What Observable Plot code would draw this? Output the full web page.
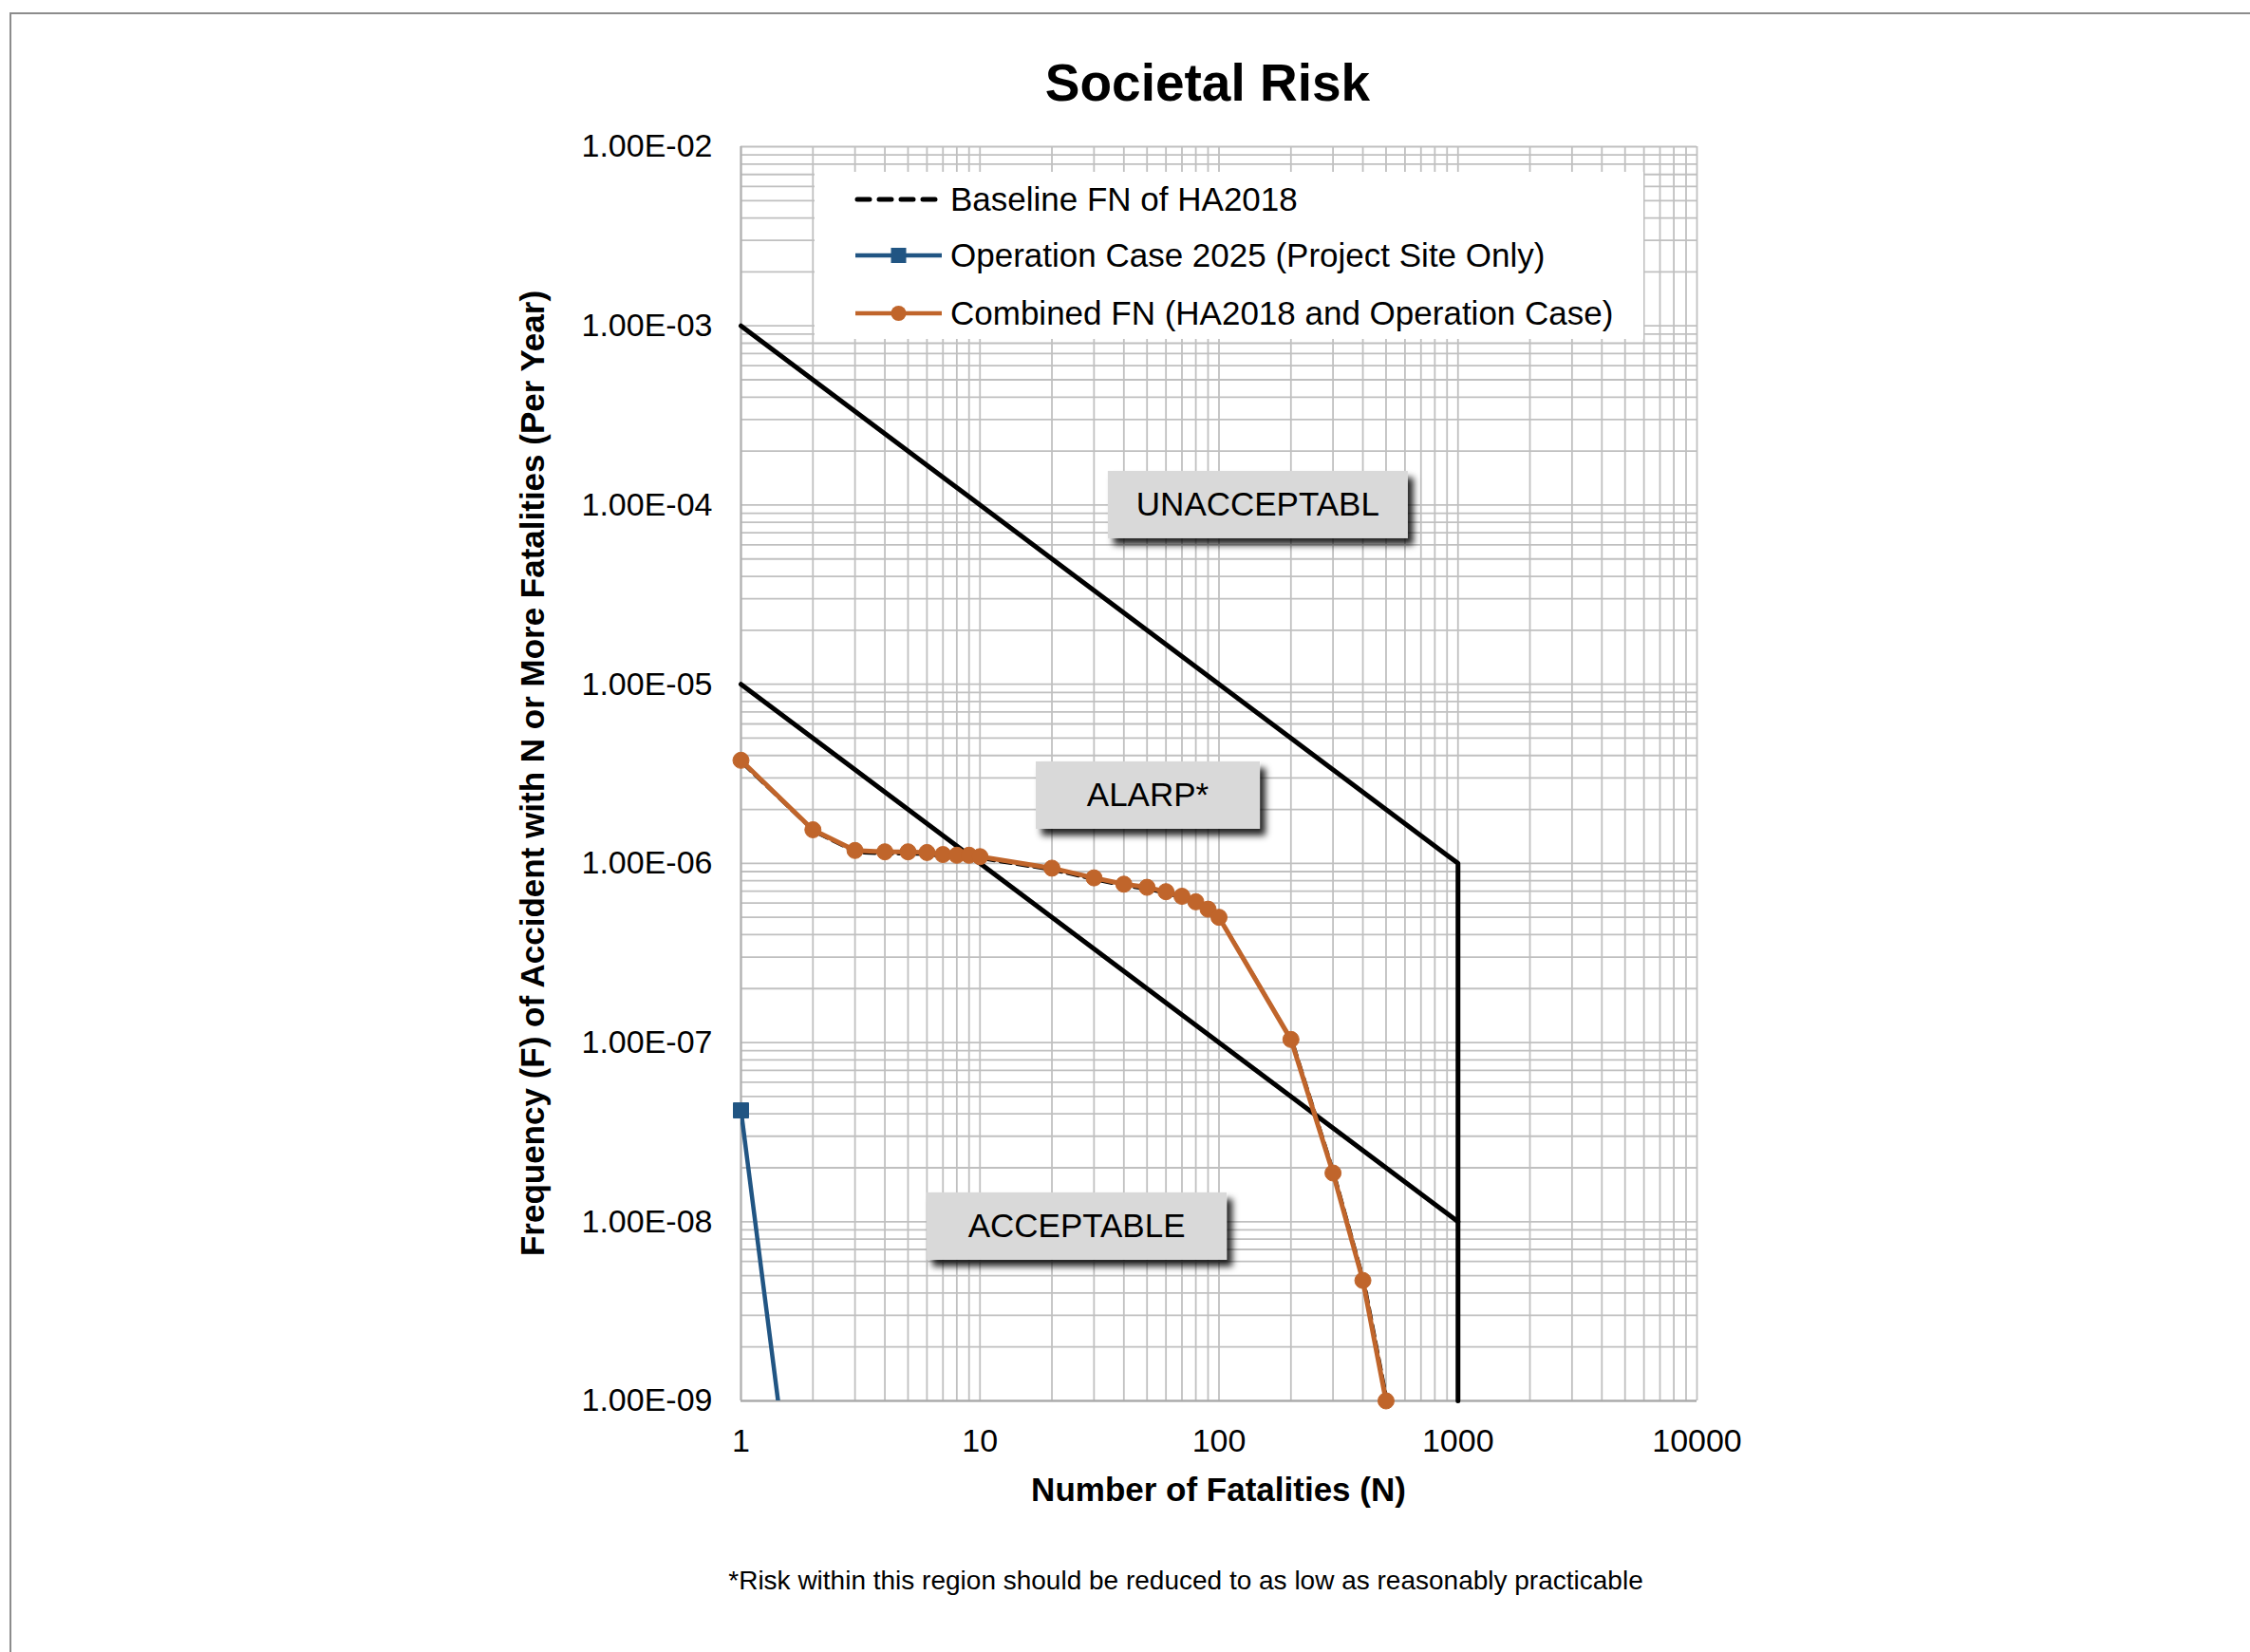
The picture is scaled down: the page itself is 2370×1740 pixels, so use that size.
<!DOCTYPE html>
<html><head><meta charset="utf-8">
<script src="https://cdn.jsdelivr.net/npm/d3@7"></script>
<script src="https://cdn.jsdelivr.net/npm/@observablehq/plot@0.6"></script>
<style>
html,body{margin:0;padding:0;background:#fff;}
#wrap{position:relative;width:2370px;height:1740px;overflow:hidden;font-family:"Liberation Sans",Arial,sans-serif;}
#frame{position:absolute;left:10px;top:13px;width:2400px;height:1800px;border-top:2px solid #8c8c8c;border-left:2px solid #8c8c8c;pointer-events:none;}
#wrap svg{position:absolute;left:0;top:0;}
</style></head><body><div id="wrap"><div id="frame"></div></div>
<script>
// ---- data ----
const fatalitiesN = [1,2,3,4,5,6,7,8,9,10,20,30,40,50,60,70,80,90,100,200,300,400,500];
const baselineF   = [3.72e-6,1.54e-6,1.18e-6,1.16e-6,1.16e-6,1.15e-6,1.12e-6,1.11e-6,1.11e-6,1.09e-6,9.4e-7,8.3e-7,7.65e-7,7.35e-7,6.95e-7,6.55e-7,6.1e-7,5.55e-7,5.0e-7,1.04e-7,1.87e-8,4.7e-9,1.0e-9];
const combinedF   = [3.76e-6,1.54e-6,1.18e-6,1.16e-6,1.16e-6,1.15e-6,1.12e-6,1.11e-6,1.11e-6,1.09e-6,9.4e-7,8.3e-7,7.65e-7,7.35e-7,6.95e-7,6.55e-7,6.1e-7,5.55e-7,5.0e-7,1.04e-7,1.87e-8,4.7e-9,1.0e-9];
const operationN  = [1, 2];
const operationF  = [4.18e-8, 3.0e-11];
const upperLimitN = [1, 1000, 1000];
const upperLimitF = [1e-3, 1e-6, 1e-9];
const lowerLimitN = [1, 1000];
const lowerLimitF = [1e-5, 1e-8];
const xTicks = [1, 10, 100, 1000, 10000];
const xTickLabels = ["1", "10", "100", "1000", "10000"];
const yTicks = [1e-2, 1e-3, 1e-4, 1e-5, 1e-6, 1e-7, 1e-8, 1e-9];
const yTickLabels = ["1.00E-02","1.00E-03","1.00E-04","1.00E-05","1.00E-06","1.00E-07","1.00E-08","1.00E-09"];
const regionLabels = ["UNACCEPTABL", "ALARP*", "ACCEPTABLE"];
const regionLabelN = [146, 50.6, 25.5];
const regionLabelF = [1.0e-4, 2.39e-6, 9.4e-9];
const seriesNames = ["Baseline FN of HA2018", "Operation Case 2025 (Project Site Only)", "Combined FN (HA2018 and Operation Case)"];
const titleText = "Societal Risk";
const xTitle = "Number of Fatalities (N)";
const yTitle = "Frequency (F) of Accident with N or More Fatalities (Per Year)";
const footnote = "*Risk within this region should be reduced to as low as reasonably practicable";

// ---- styles ----
const ORANGE = "#c0652b", BLUE = "#215583", GRID = "#c0c0c0";
const FONT = "'Liberation Sans', Arial, sans-serif";
const boxWidths = [316, 236, 316];

const series = (xs, ys) => xs.map((x, i) => ({x, y: ys[i]}));
const baseline = series(fatalitiesN, baselineF);
const combined = series(fatalitiesN, combinedF);
const operation = series(operationN, operationF);
const upper = series(upperLimitN, upperLimitF);
const lower = series(lowerLimitN, lowerLimitF);

const plot = Plot.plot({
  width: 2370, height: 1740,
  marginLeft: 780, marginRight: 583, marginTop: 154, marginBottom: 265,
  style: {fontFamily: FONT, fontSize: "34px", color: "#000", background: "transparent", overflow: "visible"},
  x: {type: "log", domain: [1, 10000]},
  y: {type: "log", domain: [1e-9, 1e-2]},
  marks: [
    Plot.gridX({stroke: GRID, strokeOpacity: 1, strokeWidth: 1.8}),
    Plot.gridY({stroke: GRID, strokeOpacity: 1, strokeWidth: 1.8}),
    Plot.ruleY([1e-9], {stroke: "#a8a8a8", strokeWidth: 2.2}),
    Plot.ruleX([1], {stroke: "#b0b0b0", strokeWidth: 2}),
    Plot.axisX({ticks: xTicks, tickFormat: d => xTickLabels[xTicks.indexOf(d)], tickSize: 0, tickPadding: 29, fontSize: 34, label: null}),
    Plot.axisY({ticks: yTicks, tickFormat: d => yTickLabels[yTicks.indexOf(d)], tickSize: 0, tickPadding: 30, fontSize: 34, label: null}),
    Plot.line(upper, {x: "x", y: "y", stroke: "#000", strokeWidth: 5}),
    Plot.line(lower, {x: "x", y: "y", stroke: "#000", strokeWidth: 5}),
    Plot.line(operation, {x: "x", y: "y", stroke: BLUE, strokeWidth: 4.5, clip: true}),
    Plot.dot(operation, {x: "x", y: "y", filter: d => d.y >= 1e-9, symbol: "square", r: 9, fill: BLUE, stroke: BLUE, strokeWidth: 1}),
    Plot.line(baseline, {x: "x", y: "y", dx: 1.5, dy: 2, stroke: "#000", strokeWidth: 3.5, strokeDasharray: "12,6"}),
    Plot.line(combined, {x: "x", y: "y", stroke: ORANGE, strokeWidth: 5}),
    Plot.dot(combined, {x: "x", y: "y", r: 8.5, fill: ORANGE, stroke: ORANGE, strokeWidth: 1})
  ]
});

document.getElementById("wrap").appendChild(plot);
const svg = d3.select(plot);
const xs = plot.scale("x"), ys = plot.scale("y");
const [x0, x1] = xs.range, [y0, y1] = ys.range; // y0 bottom, y1 top

// drop-shadow filter
svg.append("defs").html(`<filter id="shadow" x="-20%" y="-30%" width="150%" height="180%">
  <feDropShadow dx="6" dy="7" stdDeviation="3.5" flood-color="#000" flood-opacity="0.85"/></filter>`);

const txt = (sel) => sel.attr("font-family", FONT).attr("fill", "#000");

// title
txt(svg.append("text")).attr("x", 1272).attr("y", 106).attr("text-anchor", "middle")
  .attr("font-weight", "bold").attr("font-size", 55).text(titleText);

// axis titles
txt(svg.append("text")).attr("x", (x0 + x1) / 2).attr("y", 1581).attr("text-anchor", "middle")
  .attr("font-weight", "bold").attr("font-size", 35).text(xTitle);
txt(svg.append("text")).attr("transform", `translate(573,${(y0 + y1) / 2}) rotate(-90)`).attr("text-anchor", "middle")
  .attr("font-weight", "bold").attr("font-size", 35).text(yTitle);

// footnote
txt(svg.append("text")).attr("x", 1249).attr("y", 1674).attr("text-anchor", "middle")
  .attr("font-size", 28).text(footnote);

// legend
const lg = svg.append("g");
lg.append("rect").attr("x", 858).attr("y", 181).attr("width", 873).attr("height", 176).attr("fill", "#fff");
const rowsY = [210, 269, 330];
const sw0 = 901, sw1 = 992, swc = (sw0 + sw1) / 2;
lg.append("line").attr("x1", sw0 + 2).attr("x2", sw1 - 2).attr("y1", rowsY[0]).attr("y2", rowsY[0])
  .attr("stroke", "#000").attr("stroke-width", 5).attr("stroke-dasharray", "13,10").attr("stroke-linecap", "round");
lg.append("line").attr("x1", sw0).attr("x2", sw1).attr("y1", rowsY[1]).attr("y2", rowsY[1])
  .attr("stroke", BLUE).attr("stroke-width", 4.5);
lg.append("rect").attr("x", swc - 8).attr("y", rowsY[1] - 8).attr("width", 16).attr("height", 16).attr("fill", BLUE);
lg.append("line").attr("x1", sw0).attr("x2", sw1).attr("y1", rowsY[2]).attr("y2", rowsY[2])
  .attr("stroke", ORANGE).attr("stroke-width", 4.5);
lg.append("circle").attr("cx", swc).attr("cy", rowsY[2]).attr("r", 8).attr("fill", ORANGE);
seriesNames.forEach((name, i) => {
  txt(lg.append("text")).attr("x", 1001).attr("y", rowsY[i] + 12).attr("text-anchor", "start")
    .attr("font-size", 35).text(name);
});

// region label boxes
regionLabels.forEach((lab, i) => {
  const cx = xs.apply(regionLabelN[i]), cy = ys.apply(regionLabelF[i]);
  const w = boxWidths[i], h = 71;
  const g = svg.append("g");
  g.append("rect").attr("x", cx - w / 2).attr("y", cy - h / 2).attr("width", w).attr("height", h)
    .attr("fill", "#d9d9d9").attr("filter", "url(#shadow)");
  txt(g.append("text")).attr("x", cx).attr("y", cy + 12).attr("text-anchor", "middle")
    .attr("font-size", 35).text(lab);
});
</script></body></html>
